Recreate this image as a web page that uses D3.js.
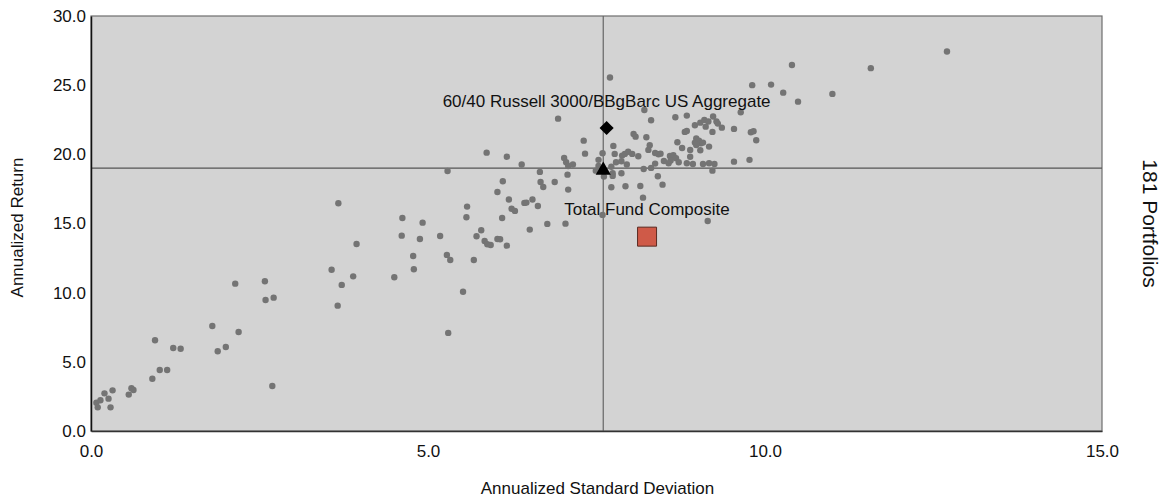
<!DOCTYPE html>
<html>
<head>
<meta charset="utf-8">
<script src="https://cdn.jsdelivr.net/npm/d3@7"></script>
<style>
  body { margin: 0; background: #fff; }
  text { font-family: "Liberation Sans", Arial, sans-serif; fill: #111; }
</style>
</head>
<body>
<div id="chart"></div>
<script>
// universe of peer portfolios: [annualized std dev, annualized return]
var universe = [
  [0.08, 2.05], [0.10, 1.71], [0.14, 2.22], [0.20, 2.72], [0.26, 2.34], [0.29, 1.71], [0.32, 2.94],
  [0.56, 2.63], [0.60, 3.09], [0.63, 2.96], [0.91, 3.78], [0.95, 6.56], [1.02, 4.41], [1.13, 4.41],
  [1.22, 6.00], [1.33, 5.95], [1.80, 7.59], [1.88, 5.76], [2.00, 6.07], [2.19, 7.16], [2.14, 10.65],
  [2.58, 10.82], [2.59, 9.47], [2.71, 9.64], [2.69, 3.25],
  [3.67, 16.46], [3.94, 13.52], [3.57, 11.66], [3.89, 11.18], [3.72, 10.56], [3.66, 9.06], [4.62, 15.40],
  [4.92, 15.06], [4.61, 14.12], [4.88, 13.88], [5.18, 14.10], [4.78, 12.65], [4.79, 11.69], [4.50, 11.11],
  [5.28, 12.73], [5.33, 12.36], [5.30, 7.09], [5.68, 12.36], [5.52, 10.07],
  [5.29, 18.80], [5.87, 20.12], [6.17, 19.83], [6.39, 19.26], [6.11, 18.05], [6.03, 17.28], [6.20, 16.73],
  [6.24, 16.07], [6.29, 15.91], [6.43, 16.49], [6.46, 16.51], [6.55, 16.73], [6.63, 16.27], [6.66, 18.73],
  [6.67, 18.00], [6.71, 17.64], [6.88, 18.00], [7.02, 19.74], [7.05, 19.43], [7.08, 19.16], [7.15, 19.26],
  [7.07, 18.53], [7.08, 17.45], [7.31, 20.99], [7.33, 20.05], [5.58, 16.22], [5.57, 15.45], [5.79, 14.51],
  [5.72, 14.08], [5.84, 13.74], [5.88, 13.50], [5.93, 13.45], [6.03, 13.88], [6.07, 13.86], [6.17, 13.40],
  [6.10, 15.40], [6.51, 14.56], [6.77, 14.97], [7.04, 14.99], [7.59, 15.62], [6.93, 22.58],
  [7.49, 18.82], [7.53, 19.16], [7.59, 20.08], [7.61, 18.39], [7.72, 17.62], [7.75, 20.61], [7.77, 20.03],
  [7.72, 19.10], [7.74, 18.63], [7.87, 18.63], [7.93, 17.69], [8.15, 17.71], [8.19, 16.87], [7.70, 25.55],
  [8.21, 23.21], [8.31, 22.46], [8.67, 22.68], [8.84, 22.80], [9.64, 23.04], [9.81, 25.00], [10.09, 25.04],
  [8.05, 21.47], [8.08, 21.28], [8.24, 21.24], [8.29, 20.66], [8.27, 20.32], [8.37, 20.10], [8.42, 20.01],
  [7.88, 19.91], [7.92, 20.03], [7.97, 20.19], [8.03, 20.03], [7.79, 19.43], [7.87, 19.50], [7.95, 19.26],
  [8.12, 19.86], [8.20, 18.94], [8.31, 19.02], [8.41, 18.42], [8.48, 17.81], [8.37, 19.33], [8.50, 19.52],
  [8.59, 19.88], [8.64, 19.93], [8.68, 19.72], [8.72, 19.43], [8.70, 20.87], [8.77, 20.46], [8.81, 21.62],
  [8.84, 21.69], [8.89, 20.32], [8.89, 19.83], [8.84, 19.36], [8.98, 21.14], [8.96, 20.85], [9.02, 20.99],
  [9.05, 20.80], [9.04, 20.30], [9.08, 20.85], [9.17, 20.56], [8.96, 22.10], [9.04, 22.29], [9.10, 22.49],
  [9.16, 22.37], [9.12, 22.00], [9.23, 22.73], [9.28, 22.37], [9.30, 22.22], [9.22, 21.62], [9.36, 21.93],
  [9.54, 21.84], [9.79, 21.60], [9.83, 21.67], [9.87, 21.02], [9.54, 19.47], [9.77, 19.60], [9.08, 19.30],
  [9.17, 19.36], [9.25, 19.30], [9.22, 18.82], [9.15, 15.18], [8.57, 19.36], [8.98, 20.68], [7.53, 19.60],
  [7.74, 18.44], [8.60, 19.55], [8.93, 19.30], [8.45, 20.05],
  [10.40, 26.46], [10.27, 24.46], [10.49, 23.81], [11.00, 24.37], [11.57, 26.23], [12.70, 27.43]
];

// universe medians (crosshair)
var medianSD = 7.6;
var medianReturn = 19.0;
var medianMarker = [7.6, 18.85];

var benchmarkName = "60/40 Russell 3000/BBgBarc US Aggregate";
var benchmark = [7.65, 21.9];
var fundName = "Total Fund Composite";
var fund = [8.25, 14.05];

var xTicks = [0, 5, 10, 15];
var yTicks = [0, 5, 10, 15, 20, 25, 30];
var countLabel = "181 Portfolios";

var margin = { top: 16, right: 68, bottom: 69, left: 91 },
    width = 1170 - margin.left - margin.right,
    height = 500 - margin.top - margin.bottom;

var svg = d3.select("#chart")
    .append("svg")
    .attr("width", 1170)
    .attr("height", 500)
    .append("g")
    .attr("transform", "translate(" + margin.left + "," + margin.top + ")");

var x = d3.scaleLinear().domain([0, 15]).range([0, width]);
var y = d3.scaleLinear().domain([0, 30]).range([height, 0]);

// plot background
svg.append("rect")
    .attr("x", 0).attr("y", 0)
    .attr("width", width).attr("height", height)
    .attr("fill", "#d3d3d3")
    .attr("stroke", "#6e6e6e")
    .attr("stroke-width", 1.2);

// median crosshair
svg.append("line")
    .attr("x1", x(medianSD)).attr("x2", x(medianSD))
    .attr("y1", 0).attr("y2", height)
    .attr("stroke", "#666").attr("stroke-width", 1.2);
svg.append("line")
    .attr("x1", 0).attr("x2", width)
    .attr("y1", y(medianReturn)).attr("y2", y(medianReturn))
    .attr("stroke", "#555").attr("stroke-width", 1.2);

// axes
var yAxis = svg.append("g")
    .call(d3.axisLeft(y).tickValues(yTicks).tickSize(0).tickPadding(5).tickFormat(d3.format(".1f")));
yAxis.select(".domain").attr("stroke", "#111").attr("stroke-width", 1.5);
yAxis.selectAll("text").style("font-size", "17px").attr("fill", "#111");

var xAxis = svg.append("g")
    .attr("transform", "translate(0," + height + ")")
    .call(d3.axisBottom(x).tickValues(xTicks).tickSize(0).tickPadding(14).tickFormat(d3.format(".1f")));
xAxis.select(".domain").attr("stroke", "#333").attr("stroke-width", 1.5);
xAxis.selectAll("text").style("font-size", "17px").attr("fill", "#111");

// axis titles
svg.append("text")
    .attr("x", width / 2 + 1)
    .attr("y", height + 63)
    .style("font-size", "17px")
    .style("text-anchor", "middle")
    .text("Annualized Standard Deviation");

svg.append("text")
    .attr("transform", "translate(" + (-68) + "," + (height / 2 + 4) + ") rotate(-90)")
    .style("font-size", "17px")
    .style("text-anchor", "middle")
    .text("Annualized Return");

svg.append("text")
    .attr("transform", "translate(" + (width + 41) + "," + (height / 2) + ") rotate(90)")
    .style("font-size", "21px")
    .style("text-anchor", "middle")
    .text(countLabel);

// peer dots
svg.selectAll(".dot")
    .data(universe)
    .enter()
    .append("circle")
    .attr("class", "dot")
    .attr("cx", function (d) { return x(d[0]); })
    .attr("cy", function (d) { return y(d[1]); })
    .attr("r", 3.2)
    .attr("fill", "#747474");

// median triangle
svg.append("path")
    .attr("d", d3.symbol().type(d3.symbolTriangle).size(100)())
    .attr("transform", "translate(" + x(medianMarker[0]) + "," + y(medianMarker[1]) + ")")
    .attr("fill", "#000");

// benchmark diamond
svg.append("path")
    .attr("d", d3.symbol().type(d3.symbolSquare).size(100)())
    .attr("transform", "translate(" + x(benchmark[0]) + "," + y(benchmark[1]) + ") rotate(45)")
    .attr("fill", "#000");

svg.append("text")
    .attr("x", x(benchmark[0]))
    .attr("y", y(benchmark[1]) - 21)
    .style("font-size", "17px")
    .style("text-anchor", "middle")
    .text(benchmarkName);

// fund square
svg.append("path")
    .attr("d", d3.symbol().type(d3.symbolSquare).size(361)())
    .attr("transform", "translate(" + x(fund[0]) + "," + y(fund[1]) + ")")
    .attr("fill", "#cf5a48")
    .attr("stroke", "#5a2a22")
    .attr("stroke-width", 1);

svg.append("text")
    .attr("x", x(fund[0]))
    .attr("y", y(fund[1]) - 22)
    .style("font-size", "17px")
    .style("text-anchor", "middle")
    .text(fundName);
</script>
</body>
</html>
